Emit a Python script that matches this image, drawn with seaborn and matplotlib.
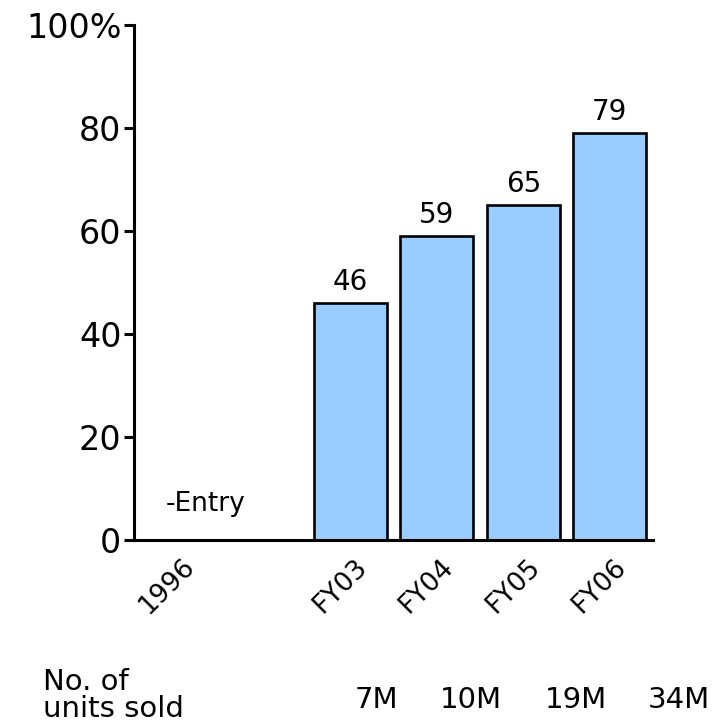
import matplotlib
matplotlib.use("Agg")
import matplotlib.pyplot as plt
import matplotlib.transforms as mtransforms
import seaborn as sns
import pandas as pd

# Market share by fiscal year (%)
years = ["FY03", "FY04", "FY05", "FY06"]
share = [46, 59, 65, 79]
units_sold = ["7M", "10M", "19M", "34M"]
slot_order = ["1996", " ", "FY03", "FY04", "FY05", "FY06"]
y_ticks = [0, 20, 40, 60, 80, 100]
y_tick_labels = ["0", "20", "40", "60", "80", "100%"]

sns.set_style("white", {"ytick.left": True})
plt.rcParams["font.family"] = ["DejaVu Sans"]
plt.rcParams["text.color"] = "black"
plt.rcParams["xtick.color"] = "black"
plt.rcParams["ytick.color"] = "black"

fig = plt.figure(figsize=(7.15, 7.27), dpi=100)
ax = fig.add_axes([134 / 715, 1 - 540 / 727, 519 / 715, 515 / 727])

df = pd.DataFrame({"year": years, "share": share})
sns.barplot(data=df, x="year", y="share", order=slot_order, color="#99CCFF",
            saturation=1, width=0.84, edgecolor="black", linewidth=1.9, ax=ax)

for container in ax.containers:
    ax.bar_label(container, labels=[str(v) for v in share], fontsize=20, padding=5)

ax.set_ylim(0, 100)
ax.set_xlim(-0.5, 5.5)
ax.set_yticks(y_ticks)
ax.set_yticklabels(y_tick_labels, fontsize=24)
ax.set_xticks(range(len(slot_order)))
ax.set_xticklabels(slot_order, rotation=45, ha="center", fontsize=19)
ax.tick_params(axis="y", left=True, length=7, width=2.2, direction="out", pad=2)
ax.tick_params(axis="x", length=0, pad=10)
ax.set_xlabel("")
ax.set_ylabel("")

# nudge rotated category labels slightly left
shift = mtransforms.ScaledTranslation(-10 / 100, 0, fig.dpi_scale_trans)
for lbl in ax.get_xticklabels():
    lbl.set_transform(lbl.get_transform() + shift)

for side in ["top", "right"]:
    ax.spines[side].set_visible(False)
for side in ["left", "bottom"]:
    ax.spines[side].set_linewidth(2.2)
    ax.spines[side].set_color("black")

ax.text(-0.13, 7.0, "-Entry", fontsize=19, ha="left", va="center")

# Units sold row below the chart
units_x = [0.527, 0.659, 0.806, 0.950]
for x, u in zip(units_x, units_sold):
    fig.text(x, 0.037, u, ha="center", va="center", fontsize=21)
fig.text(0.060, 0.062, "No. of", ha="left", va="center", fontsize=21)
fig.text(0.060, 0.025, "units sold", ha="left", va="center", fontsize=21)

fig.savefig("out.png", dpi=100)
